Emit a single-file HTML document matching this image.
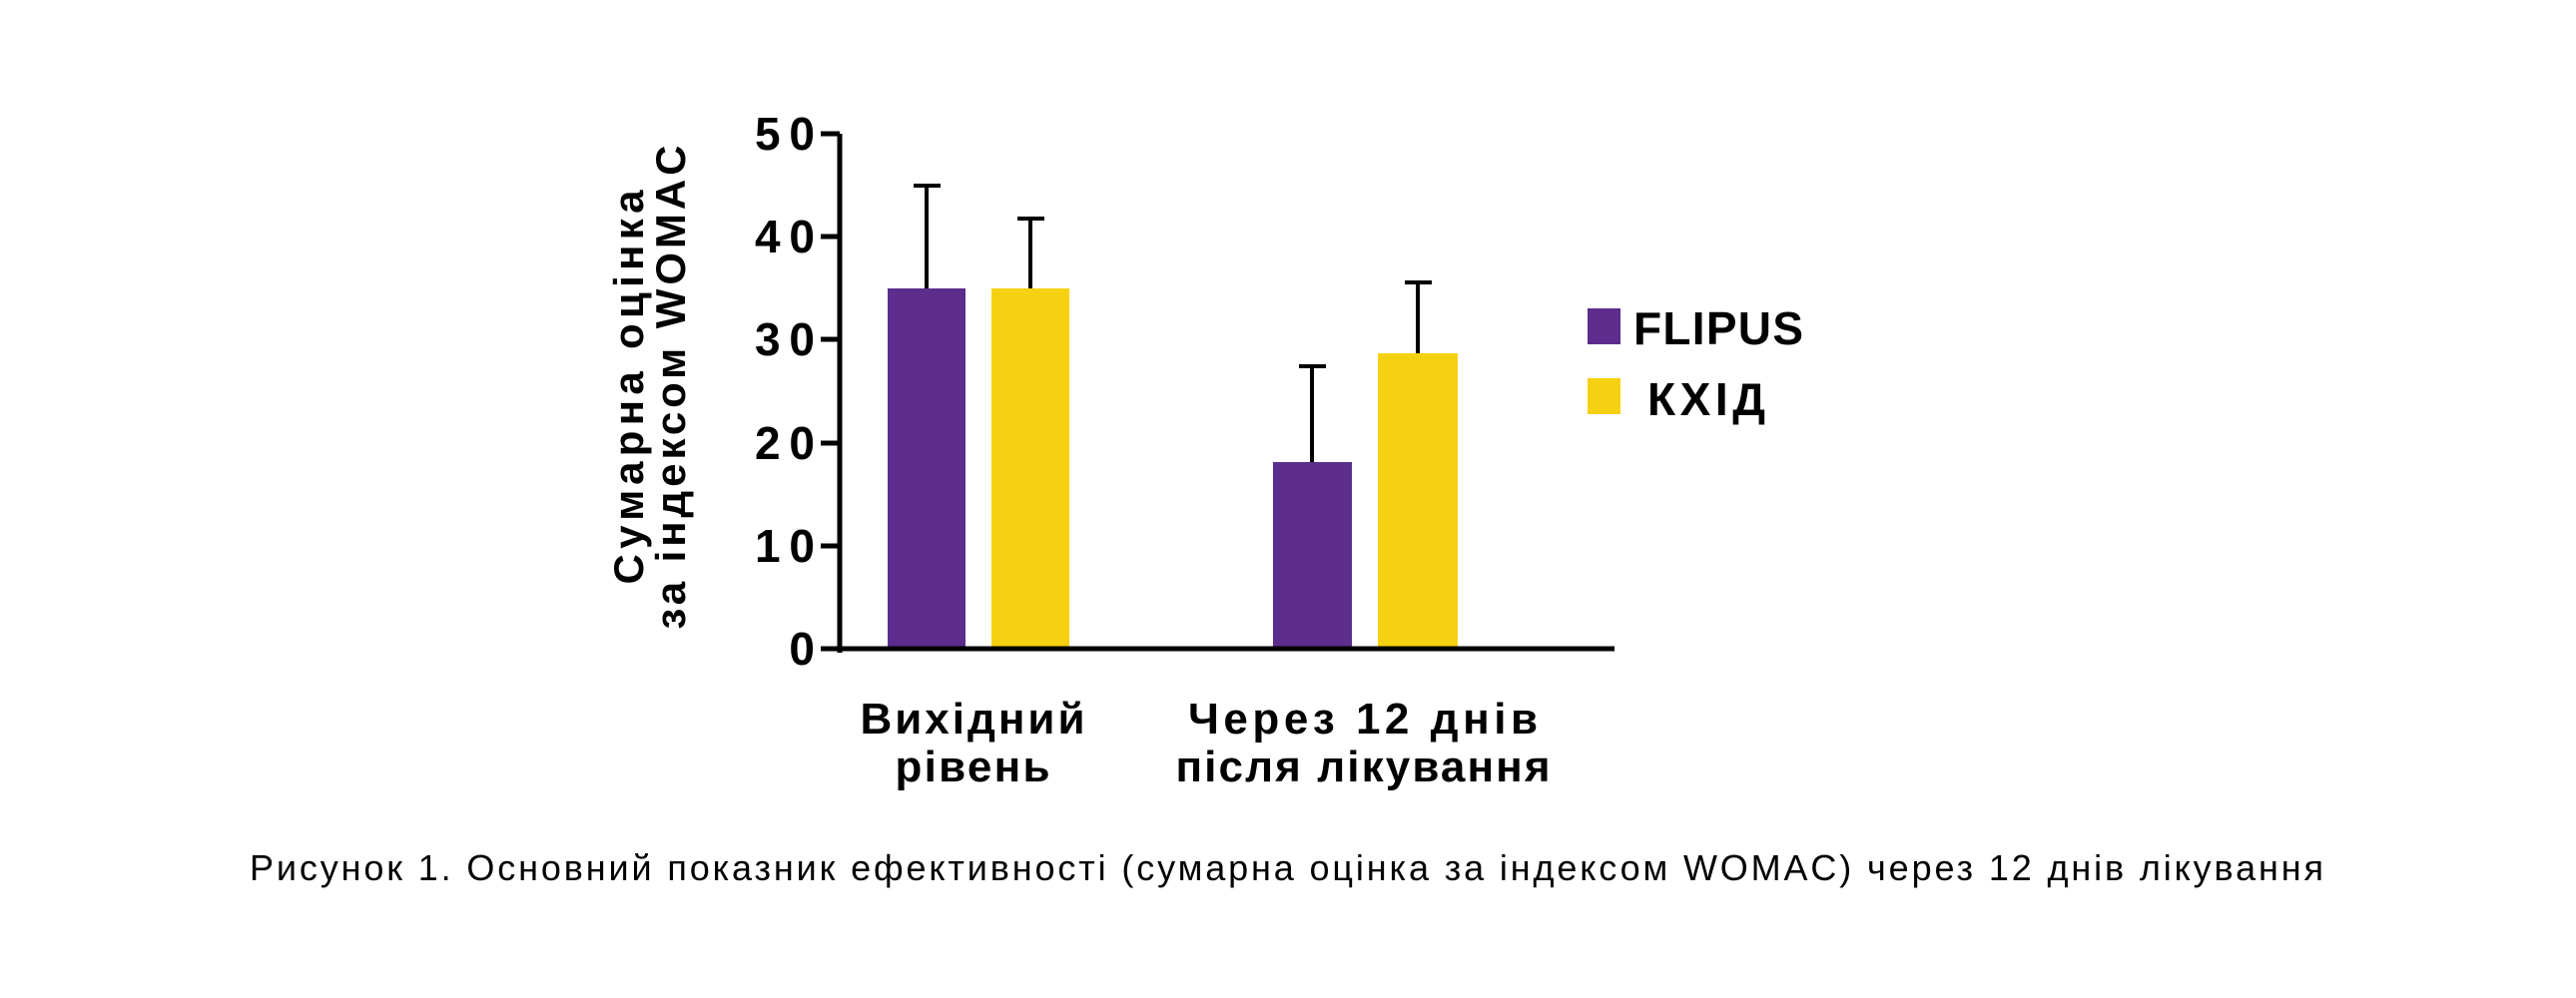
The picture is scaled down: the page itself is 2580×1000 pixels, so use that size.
<!DOCTYPE html>
<html><head><meta charset="utf-8"><style>html,body{margin:0;padding:0;background:#fff}svg{display:block}</style></head><body>
<svg width="2580" height="1000" viewBox="0 0 2580 1000" xmlns="http://www.w3.org/2000/svg" font-family="'Liberation Sans', sans-serif">
<rect width="2580" height="1000" fill="#fff"/>
<rect x="889" y="289" width="78" height="363" fill="#5c2d8c"/>
<rect x="993" y="289" width="78" height="363" fill="#f6d111"/>
<rect x="1275" y="463" width="79" height="189" fill="#5c2d8c"/>
<rect x="1380" y="354" width="80" height="298" fill="#f6d111"/>
<g stroke="#000" stroke-width="4" fill="none">
<path d="M928 289V186M915 186h27"/>
<path d="M1032 289V219M1019 219h27"/>
<path d="M1314 463V367M1301 367h27"/>
<path d="M1420 354V283M1407 283h27"/>
</g>
<g stroke="#000" stroke-width="5" fill="none">
<path d="M841 134V654"/>
<path d="M822 650H1617"/>
<path d="M822 134h19M822 237h19M822 340h19M822 444h19M822 547h19"/>
</g>
<g font-size="46" font-weight="bold" text-anchor="end">
<text x="816" y="150" textLength="60">50</text>
<text x="816" y="253" textLength="60">40</text>
<text x="816" y="356" textLength="60">30</text>
<text x="816" y="460" textLength="60">20</text>
<text x="816" y="563" textLength="60">10</text>
<text x="816" y="666">0</text>
</g>
<g transform="translate(650,388) rotate(-90)" font-size="42" font-weight="bold" text-anchor="middle">
<text x="0" y="-6" textLength="395">Сумарна оцінка</text>
<text x="0" y="36" textLength="485">за індексом WOMAC</text>
</g>
<rect x="1590" y="309" width="33" height="36" fill="#5c2d8c"/>
<rect x="1590" y="379" width="33" height="36" fill="#f6d111"/>
<text x="1636" y="345" font-size="46" font-weight="bold" textLength="170">FLIPUS</text>
<text x="1650" y="416" font-size="46" font-weight="bold" textLength="118">КХІД</text>
<g font-size="44" font-weight="bold" text-anchor="middle">
<text x="974" y="735" textLength="225">Вихідний</text>
<text x="974" y="783" textLength="155">рівень</text>
<text x="1365" y="735" textLength="350">Через 12 днів</text>
<text x="1365" y="783" textLength="375">після лікування</text>
</g>
<text x="250" y="882" font-size="36" textLength="2077">Рисунок 1. Основний показник ефективності (сумарна оцінка за індексом WOMAC) через 12 днів лікування</text>
</svg>
</body></html>
